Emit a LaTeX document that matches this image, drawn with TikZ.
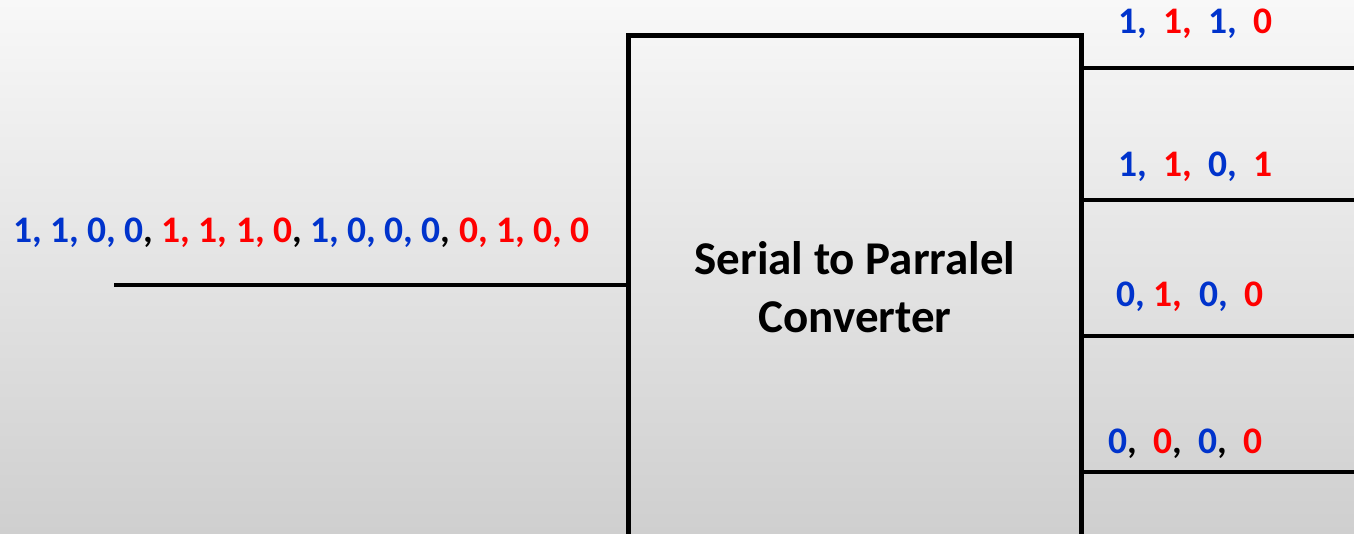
\documentclass[tikz,border=0pt]{standalone}
\usepackage{fontspec}
\setmainfont{Carlito}
\definecolor{bitblue}{RGB}{0,51,204}
\definecolor{bitred}{RGB}{255,0,0}
\definecolor{bgtop}{RGB}{248,248,248}
\definecolor{bgbottom}{RGB}{207,207,207}
\newcommand{\bb}[1]{\textcolor{bitblue}{#1}}
\newcommand{\br}[1]{\textcolor{bitred}{#1}}
\newcommand{\gap}{\hspace{16.5pt}}
\tikzset{
  bits/.style={inner sep=0pt, anchor=base west, font=\bfseries\fontsize{37.5}{44}\selectfont},
  wire/.style={line width=4.5pt},
  block/.style={draw, line width=5pt, minimum width=453pt, minimum height=700pt,
    anchor=north, inner sep=0pt, outer sep=0pt},
  title/.style={inner sep=0pt, align=center, font=\bfseries\fontsize{47}{58}\selectfont}
}
\begin{document}
\begin{tikzpicture}[x=1pt,y=-1pt]
  % backdrop and frame
  \shade[top color=bgtop, bottom color=bgbottom] (0,0) rectangle (1354,533);
  \useasboundingbox (0,0) rectangle (1354,533);
  \clip (0,0) rectangle (1354,533);

  % converter block (runs off the lower edge)
  \node[block] (conv) at (855,35.5) {};
  \node[title] (name) at (855,287) {Serial to Parralel\\Converter};

  % serial input
  \coordinate (in) at (114,285);
  \draw[wire] (in) -- (conv.west |- in);
  \node[bits] (stream) at (13,242)
    {\bb{1, 1, 0, 0}, \br{1, 1, 1, 0}, \bb{1, 0, 0, 0}, \br{0, 1, 0, 0}};

  % parallel outputs
  \coordinate (o1) at (1354,68);
  \coordinate (o2) at (1354,200);
  \coordinate (o3) at (1354,336);
  \coordinate (o4) at (1354,472);
  \foreach \o in {o1,o2,o3,o4}
    \draw[wire] (conv.east |- \o) -- (\o);

  \node[bits] (w1) at (1118,33)
    {\bb{1,}\gap\br{1,}\gap\bb{1,}\gap\br{0}};
  \node[bits] (w2) at (1118,176)
    {\bb{1,}\gap\br{1,}\gap\bb{0,}\gap\br{1}};
  \node[bits] (w3) at (1116,306)
    {\bb{0,}\hspace{9pt}\br{1,}\gap\bb{0,}\gap\br{0}};
  \node[bits] (w4) at (1108,453)
    {\bb{0},\gap\br{0},\gap\bb{0},\gap\br{0}};
\end{tikzpicture}
\end{document}
